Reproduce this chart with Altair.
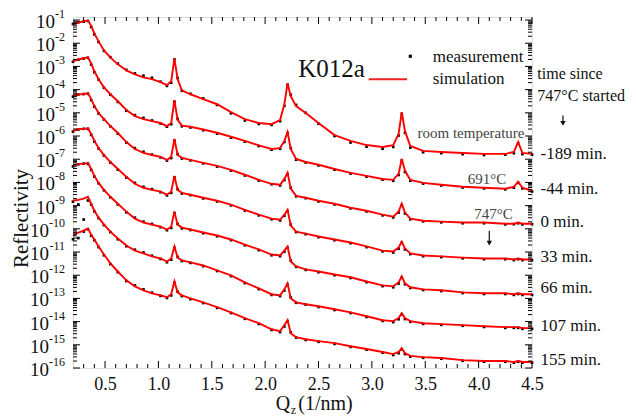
import altair as alt
import pandas as pd

# ---------------- data (log10 of reflectivity) ----------------
QZ = [0.20, 0.25, 0.30, 0.34, 0.37, 0.40, 0.44, 0.49, 0.55, 0.62,
      0.70, 0.78, 0.86, 0.94, 1.02, 1.08, 1.12, 1.15, 1.18, 1.22,
      1.30, 1.42, 1.55, 1.68, 1.81, 1.94, 2.06, 2.14, 2.18, 2.21,
      2.24, 2.29, 2.38, 2.50, 2.65, 2.80, 2.95, 3.10, 3.20, 3.25,
      3.28, 3.31, 3.36, 3.48, 3.65, 3.85, 4.05, 4.25, 4.33, 4.37,
      4.41, 4.50]

TIME_LABELS = ["-189 min.", "-44 min.", "0 min.", "33 min.", "66 min.", "107 min.", "155 min."]

SIM_M189 = [-1.19, -1.11, -1.06, -1.02, -1.24, -1.58, -1.92, -2.31, -2.61, -2.91, -3.17, -3.34, -3.47, -3.55, -3.68, -3.81, -3.64, -2.65, -3.55, -4.03, -4.20, -4.41, -4.63, -4.97, -5.27, -5.44, -5.49, -5.31, -4.63, -3.73, -4.28, -4.71, -5.01, -5.44, -5.96, -6.21, -6.39, -6.47, -6.39, -5.91, -4.97, -5.79, -6.43, -6.64, -6.69, -6.73, -6.77, -6.77, -6.69, -6.26, -6.73, -6.77]
SIM_M44 = [-2.78, -2.70, -2.65, -2.61, -2.87, -3.21, -3.55, -3.90, -4.20, -4.50, -4.88, -5.14, -5.27, -5.36, -5.44, -5.57, -5.44, -4.45, -5.30, -5.55, -5.60, -5.72, -5.86, -6.03, -6.21, -6.40, -6.56, -6.52, -6.21, -5.83, -6.56, -6.99, -7.12, -7.24, -7.42, -7.59, -7.72, -7.85, -7.89, -7.63, -6.99, -7.50, -7.89, -8.02, -8.10, -8.19, -8.23, -8.27, -8.19, -7.97, -8.23, -8.36]
SIM_0 = [-4.28, -4.20, -4.20, -4.15, -4.41, -4.71, -5.01, -5.27, -5.57, -5.87, -6.26, -6.56, -6.73, -6.82, -6.90, -7.03, -6.90, -6.13, -6.82, -6.94, -7.03, -7.16, -7.29, -7.46, -7.67, -7.89, -8.06, -8.10, -7.85, -7.59, -8.27, -8.58, -8.66, -8.79, -8.92, -9.09, -9.22, -9.39, -9.48, -9.26, -8.92, -9.30, -9.56, -9.65, -9.69, -9.73, -9.73, -9.78, -9.78, -9.73, -9.78, -9.78]
SIM_33 = [-5.79, -5.70, -5.70, -5.66, -5.91, -6.21, -6.52, -6.82, -7.12, -7.42, -7.76, -8.06, -8.23, -8.32, -8.40, -8.53, -8.40, -7.72, -8.32, -8.45, -8.53, -8.66, -8.79, -8.96, -9.18, -9.39, -9.56, -9.61, -9.39, -9.18, -9.86, -10.12, -10.21, -10.33, -10.46, -10.59, -10.76, -10.94, -10.98, -10.81, -10.55, -10.85, -11.06, -11.15, -11.19, -11.24, -11.28, -11.28, -11.32, -11.28, -11.32, -11.32]
SIM_66 = [-7.29, -7.20, -7.20, -7.16, -7.42, -7.72, -8.02, -8.32, -8.62, -8.92, -9.26, -9.56, -9.73, -9.82, -9.91, -10.03, -9.91, -9.26, -9.82, -9.95, -10.03, -10.16, -10.29, -10.46, -10.68, -10.89, -11.11, -11.15, -10.94, -10.76, -11.41, -11.62, -11.75, -11.84, -11.97, -12.09, -12.27, -12.44, -12.48, -12.31, -12.05, -12.35, -12.52, -12.61, -12.65, -12.74, -12.78, -12.78, -12.82, -12.78, -12.82, -12.82]
SIM_107 = [-8.79, -8.75, -8.70, -8.62, -8.92, -9.22, -9.52, -9.82, -10.12, -10.42, -10.72, -10.94, -11.06, -11.19, -11.28, -11.41, -11.28, -10.76, -11.24, -11.36, -11.45, -11.58, -11.79, -12.01, -12.31, -12.57, -12.82, -12.87, -12.61, -12.35, -13.00, -13.17, -13.25, -13.34, -13.47, -13.60, -13.77, -13.94, -13.98, -13.85, -13.64, -13.85, -13.98, -14.07, -14.11, -14.15, -14.20, -14.24, -14.24, -14.24, -14.28, -14.28]
SIM_155 = [-10.29, -10.16, -10.08, -9.99, -10.25, -10.46, -10.76, -11.11, -11.49, -11.84, -12.22, -12.48, -12.65, -12.78, -12.87, -12.95, -12.82, -12.27, -12.74, -12.87, -13.00, -13.17, -13.38, -13.60, -13.85, -14.07, -14.33, -14.41, -14.15, -13.94, -14.50, -14.67, -14.76, -14.84, -14.93, -15.06, -15.18, -15.31, -15.40, -15.31, -15.14, -15.36, -15.48, -15.53, -15.57, -15.66, -15.70, -15.70, -15.74, -15.70, -15.74, -15.74]

MEAS_M189 = [-1.17, -1.10, -1.07, -1.04, -1.30, -1.62, -1.95, -2.33, -2.60, -2.88, -3.15, -3.30, -3.40, -3.49, -3.66, -3.84, -3.70, -2.70, -3.50, -4.05, -4.18, -4.38, -4.66, -5.02, -5.33, -5.48, -5.52, -5.36, -4.70, -3.80, -4.22, -4.66, -5.00, -5.47, -6.00, -6.28, -6.46, -6.55, -6.47, -5.98, -5.05, -5.86, -6.50, -6.70, -6.74, -6.78, -6.82, -6.80, -6.74, -6.32, -6.78, -6.80]
MEAS_M44 = [-2.80, -2.71, -2.66, -2.63, -2.92, -3.25, -3.57, -3.92, -4.22, -4.53, -4.91, -5.10, -5.22, -5.33, -5.46, -5.60, -5.49, -4.52, -5.26, -5.58, -5.63, -5.75, -5.90, -6.07, -6.24, -6.43, -6.59, -6.55, -6.26, -5.88, -6.52, -7.02, -7.14, -7.27, -7.45, -7.62, -7.75, -7.88, -7.93, -7.68, -7.05, -7.55, -7.93, -8.05, -8.13, -8.22, -8.26, -8.30, -8.23, -8.02, -8.26, -8.39]
MEAS_0 = [-4.30, -4.21, -4.19, -4.18, -4.45, -4.74, -5.03, -5.29, -5.58, -5.90, -6.28, -6.52, -6.68, -6.80, -6.92, -7.06, -6.95, -6.20, -6.78, -6.97, -7.05, -7.18, -7.32, -7.49, -7.70, -7.92, -8.08, -8.13, -7.90, -7.65, -8.23, -8.60, -8.68, -8.82, -8.95, -9.12, -9.25, -9.42, -9.51, -9.30, -8.98, -9.34, -9.59, -9.68, -9.72, -9.76, -9.76, -9.81, -9.80, -9.76, -9.81, -9.80]
MEAS_33 = [-5.81, -5.72, -5.69, -5.70, -5.95, -6.24, -6.54, -6.84, -7.14, -7.45, -7.79, -8.02, -8.19, -8.29, -8.42, -8.56, -8.45, -7.78, -8.29, -8.48, -8.55, -8.69, -8.82, -8.99, -9.21, -9.42, -9.59, -9.64, -9.44, -9.24, -9.82, -10.14, -10.23, -10.36, -10.49, -10.62, -10.79, -10.97, -11.02, -10.86, -10.60, -10.89, -11.09, -11.18, -11.22, -11.27, -11.31, -11.31, -11.35, -11.31, -11.35, -11.35]
MEAS_66 = [-7.31, -7.22, -7.19, -7.20, -7.46, -7.75, -8.04, -8.34, -8.64, -8.95, -9.29, -9.52, -9.69, -9.79, -9.93, -10.06, -9.96, -9.32, -9.79, -9.98, -10.05, -10.19, -10.32, -10.49, -10.71, -10.92, -11.14, -11.18, -10.99, -10.82, -11.37, -11.64, -11.77, -11.87, -12.00, -12.12, -12.30, -12.47, -12.52, -12.36, -12.11, -12.39, -12.55, -12.64, -12.68, -12.77, -12.81, -12.81, -12.85, -12.81, -12.85, -12.85]
MEAS_107 = [-8.83, -8.95, -9.60, -8.78, -8.95, -9.25, -9.54, -9.84, -10.14, -10.45, -10.75, -10.90, -11.02, -11.16, -11.30, -11.44, -11.33, -10.82, -11.21, -11.39, -11.47, -11.61, -11.82, -12.04, -12.34, -12.60, -12.85, -12.90, -12.66, -12.41, -12.96, -13.19, -13.27, -13.37, -13.50, -13.63, -13.80, -13.97, -14.02, -13.90, -13.70, -13.89, -14.01, -14.10, -14.14, -14.18, -14.23, -14.27, -14.27, -14.27, -14.31, -14.31]
MEAS_155 = [-10.45, -10.40, -10.12, -10.02, -10.30, -10.49, -10.79, -11.14, -11.52, -11.87, -12.25, -12.44, -12.61, -12.75, -12.89, -12.98, -12.87, -12.33, -12.71, -12.90, -13.03, -13.20, -13.41, -13.63, -13.88, -14.10, -14.36, -14.45, -14.21, -14.00, -14.46, -14.69, -14.79, -14.87, -14.96, -15.09, -15.21, -15.34, -15.44, -15.36, -15.20, -15.40, -15.51, -15.56, -15.60, -15.69, -15.73, -15.73, -15.77, -15.73, -15.77, -15.77]

SIM_ALL = [SIM_M189, SIM_M44, SIM_0, SIM_33, SIM_66, SIM_107, SIM_155]
MEAS_ALL = [MEAS_M189, MEAS_M44, MEAS_0, MEAS_33, MEAS_66, MEAS_107, MEAS_155]

# right-hand labels (log10 position) and annotations
TIME_LOG = [-6.77, -8.27, -9.70, -11.21, -12.57, -14.21, -15.64]
HEADER_TEXT = ["time since", "747°C started"]
HEADER_LOG = [-3.34, -4.28]
ANNOT_TEXT = ["room temperature", "691°C", "747°C"]
ANNOT_Q = [4.43, 4.26, 4.32]
ANNOT_LOG = [-5.87, -7.85, -9.35]

# axis ticks
X_MAJOR = [0.5, 1.0, 1.5, 2.0, 2.5, 3.0, 3.5, 4.0, 4.5]
X_MINOR = [0.3, 0.4, 0.6, 0.7, 0.8, 0.9, 1.1, 1.2, 1.3, 1.4, 1.6, 1.7, 1.8, 1.9,
           2.1, 2.2, 2.3, 2.4, 2.6, 2.7, 2.8, 2.9, 3.1, 3.2, 3.3, 3.4, 3.6, 3.7,
           3.8, 3.9, 4.1, 4.2, 4.3, 4.4]
Y_EXP_SHORT = [-1, -2, -3, -4, -5, -6, -7, -8, -9]
Y_EXP_LONG = [-10, -11, -12, -13, -14, -15, -16]
Y_MAJOR = [10.0 ** e for e in Y_EXP_SHORT + Y_EXP_LONG]
Y_MINOR = [m * 10.0 ** e for e in range(-16, -1) for m in range(2, 10)]

# ---------------- tables ----------------
rows = []
for lab, sim, meas in zip(TIME_LABELS, SIM_ALL, MEAS_ALL):
    for q, s, m in zip(QZ, sim, meas):
        rows.append({"run": lab, "q": q, "sim": 10.0 ** s, "meas": 10.0 ** m})
df = pd.DataFrame(rows)

W, H = 459, 351
FONT = "Liberation Serif"
RED = "#ff0000"
INK = "#111"
xs = alt.Scale(domain=[0.2, 4.5], nice=False, zero=False)
ys = alt.Scale(type="log", domain=[1e-16, 0.135], nice=False)

x_axis = alt.Axis(values=X_MAJOR, format=".1f", title=None, labelFont=FONT,
                  labelFontSize=18, labelPadding=7, labelColor=INK,
                  ticks=False, domain=False, grid=False, labelFlush=False)
y_axis = alt.Axis(values=Y_MAJOR, labels=False, ticks=False, domain=False, grid=False,
                  title="Reflectivity", titleFont=FONT, titleFontSize=21,
                  titleFontWeight="normal", titleColor=INK,
                  titleX=-52, titleY=201, titleAngle=270,
                  titleAlign="center", titleBaseline="middle")

X = lambda f: alt.X(f, scale=xs)
Y = lambda f: alt.Y(f, scale=ys)

meas_layer = alt.Chart(df).mark_square(size=7, color="black", opacity=1).encode(
    x=alt.X("q:Q", scale=xs, axis=x_axis),
    y=alt.Y("meas:Q", scale=ys, axis=y_axis),
)
sim_layer = alt.Chart(df).mark_line(color=RED, strokeWidth=1.9).encode(
    x=X("q:Q"), y=Y("sim:Q"), detail="run:N",
)

# y tick labels: "10" with a raised exponent
ten_short = alt.Chart(pd.DataFrame({"v": [10.0 ** e for e in Y_EXP_SHORT]})).mark_text(
    text="10", font=FONT, fontSize=19, align="right", baseline="middle", dy=2, color=INK
).encode(y=Y("v:Q"), x=alt.value(-18))
ten_long = alt.Chart(pd.DataFrame({"v": [10.0 ** e for e in Y_EXP_LONG]})).mark_text(
    text="10", font=FONT, fontSize=19, align="right", baseline="middle", dy=2, color=INK
).encode(y=Y("v:Q"), x=alt.value(-24))
exp_df = pd.DataFrame({"v": Y_MAJOR, "e": [str(e) for e in Y_EXP_SHORT + Y_EXP_LONG]})
exp_layer = alt.Chart(exp_df).mark_text(
    font=FONT, fontSize=12, align="right", baseline="middle", dy=-6, color=INK
).encode(y=Y("v:Q"), x=alt.value(-8), text="e:N")

# inward ticks
xmaj = pd.DataFrame({"v": X_MAJOR})
xmin = pd.DataFrame({"v": X_MINOR})
ymaj = pd.DataFrame({"v": Y_MAJOR})
ymin = pd.DataFrame({"v": Y_MINOR})


def xticks(d, length):
    b = alt.Chart(d).mark_rule(color="black", strokeWidth=1).encode(
        x=X("v:Q"), y=alt.value(H), y2=alt.value(H - length))
    t = alt.Chart(d).mark_rule(color="black", strokeWidth=1).encode(
        x=X("v:Q"), y=alt.value(0), y2=alt.value(length))
    return [b, t]


def yticks(d, length):
    l = alt.Chart(d).mark_rule(color="black", strokeWidth=1).encode(
        y=Y("v:Q"), x=alt.value(0), x2=alt.value(length))
    r = alt.Chart(d).mark_rule(color="black", strokeWidth=1).encode(
        y=Y("v:Q"), x=alt.value(W), x2=alt.value(W - length))
    return [l, r]


tick_layers = xticks(xmaj, 7) + xticks(xmin, 4) + yticks(ymaj, 7) + yticks(ymin, 4)

# right-hand time labels
time_df = pd.DataFrame({"text": TIME_LABELS, "q": [4.58] * len(TIME_LABELS),
                        "r": [10.0 ** v for v in TIME_LOG]})
time_layer = alt.Chart(time_df).mark_text(font=FONT, fontSize=17, align="left",
                                          baseline="middle", color=INK).encode(
    x=X("q:Q"), y=Y("r:Q"), text="text:N")

head_df = pd.DataFrame({"text": HEADER_TEXT, "q": [4.55, 4.55],
                        "r": [10.0 ** v for v in HEADER_LOG]})
head_layer = alt.Chart(head_df).mark_text(font=FONT, fontSize=16, align="left",
                                          baseline="middle", color=INK).encode(
    x=X("q:Q"), y=Y("r:Q"), text="text:N")

annot_df = pd.DataFrame({"text": ANNOT_TEXT, "q": ANNOT_Q,
                         "r": [10.0 ** v for v in ANNOT_LOG]})
annot_layer = alt.Chart(annot_df).mark_text(font=FONT, fontSize=15, align="right",
                                            baseline="middle", color="#444").encode(
    x=X("q:Q"), y=Y("r:Q"), text="text:N")

# sample name
name_df = pd.DataFrame({"text": ["K012a"], "q": [2.31], "r": [10.0 ** -3.12]})
name_layer = alt.Chart(name_df).mark_text(font=FONT, fontSize=25, align="left",
                                          baseline="middle", color=INK).encode(
    x=X("q:Q"), y=Y("r:Q"), text="text:N")

# legend
leg_df = pd.DataFrame({"text": ["measurement", "simulation"], "q": [3.57, 3.57],
                       "r": [10.0 ** -2.61, 10.0 ** -3.55]})
leg_text = alt.Chart(leg_df).mark_text(font=FONT, fontSize=17, align="left",
                                       baseline="middle", color=INK).encode(
    x=X("q:Q"), y=Y("r:Q"), text="text:N")
leg_dot = alt.Chart(pd.DataFrame({"q": [3.36], "r": [10.0 ** -2.56]})).mark_square(
    size=10, color="black", opacity=1).encode(x=X("q:Q"), y=Y("r:Q"))
leg_line = alt.Chart(pd.DataFrame({"q1": [2.97], "q2": [3.33], "r": [10.0 ** -3.55]})).mark_rule(
    color="#ee2222", strokeWidth=2).encode(x=X("q1:Q"), x2="q2:Q", y=Y("r:Q"))

# arrows
arrow_df = pd.DataFrame({"q": [4.79, 4.10], "r1": [10.0 ** -5.12, 10.0 ** -10.08],
                         "r2": [10.0 ** -5.45, 10.0 ** -10.62]})
arrow_shaft = alt.Chart(arrow_df).mark_rule(color=INK, strokeWidth=1.2).encode(
    x=X("q:Q"), y=Y("r1:Q"), y2="r2:Q")
arrow_head = alt.Chart(arrow_df).mark_point(shape="triangle-down", filled=True, size=30,
                                            color=INK, opacity=1).encode(
    x=X("q:Q"), y=Y("r2:Q"))

# x-axis title with subscript
qt_df = pd.DataFrame({"text": ["Q", "(1/nm)"], "q": [2.10, 2.31]})
qt_main = alt.Chart(qt_df).mark_text(font=FONT, fontSize=20, align="left",
                                     baseline="alphabetic", color=INK).encode(
    x=X("q:Q"), y=alt.value(H + 42), text="text:N")
qt_sub = alt.Chart(pd.DataFrame({"text": ["z"], "q": [2.24]})).mark_text(
    font=FONT, fontSize=12, align="left", baseline="alphabetic", color=INK).encode(
    x=X("q:Q"), y=alt.value(H + 46), text="text:N")

chart = alt.layer(
    meas_layer, sim_layer, *tick_layers, ten_short, ten_long, exp_layer,
    time_layer, head_layer, annot_layer,
    name_layer, leg_text, leg_dot, leg_line, arrow_shaft, arrow_head, qt_main, qt_sub,
).properties(
    width=W, height=H,
    padding={"left": 65, "top": 9, "right": 96, "bottom": 51},
    autosize=alt.AutoSizeParams(type="none"),
).configure_view(stroke=INK, strokeWidth=1.3).configure(background="white")

chart.save("out.html", embed_options={"renderer": "svg", "actions": False})
